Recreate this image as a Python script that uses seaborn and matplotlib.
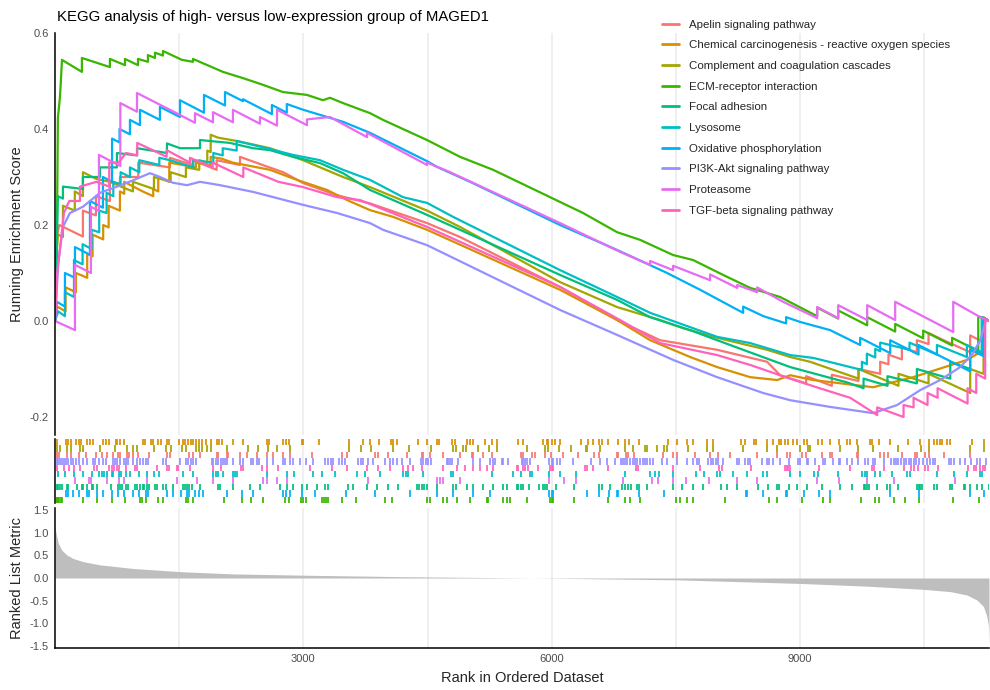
import matplotlib
matplotlib.use("Agg")
import matplotlib.pyplot as plt
from matplotlib.lines import Line2D
import pandas as pd
import seaborn as sns

# ---------------------------------------------------------------- data
N_GENES = 11280

pathways = [
    "Apelin signaling pathway",
    "Chemical carcinogenesis - reactive oxygen species",
    "Complement and coagulation cascades",
    "ECM-receptor interaction",
    "Focal adhesion",
    "Lysosome",
    "Oxidative phosphorylation",
    "PI3K-Akt signaling pathway",
    "Proteasome",
    "TGF-beta signaling pathway",
]
colors = ["#F8766D", "#D89000", "#A3A500", "#39B600", "#00BF7D",
          "#00BFC4", "#00B0F6", "#9590FF", "#E76BF3", "#FF62BC"]

# running enrichment score, vertices (rank, score)
apelin_rank = [1, 28, 52, 338, 338, 495, 495, 664, 664, 785, 785, 1007, 1007, 1389, 1389, 1663, 1663,
               1953, 1953, 2235, 2235, 2557, 2757, 2996, 3407, 3805, 4494, 4892, 6100, 6789, 7308, 7997,
               8601, 8758, 9072, 9072, 9382, 9382, 9704, 9704, 9966, 9966, 10066, 10066, 10228, 10228,
               10409, 10409, 10550, 10550, 10731, 11053, 11053, 11200, 11200, 11280]
apelin_es = [0.0, 0.18, 0.2, 0.176, 0.23, 0.22, 0.26, 0.25, 0.29, 0.285, 0.30, 0.30, 0.33, 0.32, 0.34,
             0.325, 0.335, 0.315, 0.335, 0.325, 0.342, 0.322, 0.31, 0.2875, 0.262, 0.245, 0.204, 0.175,
             0.071, 0.002, -0.04, -0.06, -0.085, -0.113, -0.13, -0.115, -0.135, -0.112, -0.125, -0.10,
             -0.11, -0.085, -0.09, -0.07, -0.08, -0.055, -0.065, -0.04, -0.048, -0.025, -0.04, -0.065,
             -0.03, -0.043, 0.007, 0.0]

chem_rank = [1, 28, 129, 129, 254, 254, 390, 390, 455, 455, 583, 583, 649, 649, 785, 785, 837, 837, 1059,
             1187, 1187, 1248, 1248, 1381, 1381, 1543, 1703, 1703, 1881, 1881, 2017, 2147, 2597, 2923,
             3286, 3527, 3805, 4083, 4494, 6100, 6789, 7188, 7671, 7997, 8396, 8722, 8879, 9157, 9881,
             10365, 11017, 11222, 11222, 11280]
chem_es = [0.0, 0.03, 0.02, 0.07, 0.06, 0.10, 0.09, 0.14, 0.135, 0.18, 0.17, 0.20, 0.195, 0.24, 0.23,
           0.27, 0.265, 0.29, 0.27, 0.26, 0.275, 0.27, 0.30, 0.29, 0.33, 0.325, 0.32, 0.33, 0.325, 0.342,
           0.338, 0.33, 0.315, 0.294, 0.273, 0.252, 0.231, 0.217, 0.19, 0.065, 0.002, -0.04, -0.075,
           -0.096, -0.117, -0.123, -0.113, -0.123, -0.138, -0.117, -0.081, -0.06, 0.007, 0.0]

compl_rank = [1, 24, 36, 97, 97, 240, 240, 338, 338, 500, 664, 866, 942, 942, 1196, 1196, 1397, 1397, 1582,
              1582, 1743, 1743, 1840, 1840, 1881, 1881, 1969, 2199, 2597, 2996, 3479, 3805, 4494, 4892,
              6100, 6789, 7308, 7586, 7997, 8601, 8879, 9120, 9704, 9704, 10187, 10187, 10550, 10550,
              11053, 11053, 11214, 11214, 11280]
compl_es = [0.0, 0.15, 0.18, 0.175, 0.24, 0.23, 0.27, 0.26, 0.31, 0.296, 0.29, 0.275, 0.27, 0.29, 0.275,
            0.30, 0.29, 0.31, 0.30, 0.32, 0.315, 0.335, 0.33, 0.355, 0.352, 0.388, 0.382, 0.375, 0.36,
            0.335, 0.30, 0.279, 0.23, 0.196, 0.081, 0.029, 0.002, -0.015, -0.035, -0.06, -0.075, -0.085,
            -0.12, -0.10, -0.135, -0.11, -0.13, -0.11, -0.15, -0.10, -0.11, 0.007, 0.0]

ecm_rank = [1, 12, 24, 36, 60, 72, 85, 326, 326, 664, 664, 846, 846, 1003, 1003, 1123, 1123, 1208, 1208,
            1305, 1305, 1534, 1667, 1667, 2029, 2271, 2513, 2754, 3044, 3237, 3322, 3479, 3805, 3962,
            4494, 4892, 5291, 6100, 6378, 6789, 7067, 7465, 7707, 8069, 8396, 8758, 9205, 9205, 9459,
            9459, 9809, 9809, 10147, 10147, 10485, 10485, 10834, 10834, 11017, 11150, 11150, 11280]
ecm_es = [0.0, 0.04, 0.175, 0.423, 0.465, 0.50, 0.544, 0.519, 0.548, 0.529, 0.546, 0.533, 0.546, 0.533,
          0.546, 0.540, 0.554, 0.548, 0.559, 0.553, 0.5625, 0.544, 0.540, 0.546, 0.519, 0.506, 0.492,
          0.477, 0.471, 0.460, 0.465, 0.454, 0.433, 0.419, 0.377, 0.342, 0.315, 0.248, 0.225, 0.185,
          0.169, 0.1375, 0.127, 0.096, 0.069, 0.050, 0.010, 0.028, 0.005, 0.022, -0.009, 0.008, -0.022,
          -0.006, -0.036, -0.020, -0.051, -0.035, -0.051, -0.063, 0.010, 0.0]

focal_rank = [1, 12, 24, 36, 97, 97, 338, 338, 544, 544, 749, 749, 991, 991, 1353, 1353, 1510, 1752, 1752,
              2114, 2392, 2597, 2875, 3201, 3479, 3805, 4494, 4892, 6100, 6789, 7188, 7671, 7997, 8311,
              8879, 9567, 9765, 9765, 10054, 10054, 10409, 10409, 10812, 10812, 11053, 11053, 11194,
              11194, 11280]
focal_es = [0.0, 0.1, 0.175, 0.26, 0.255, 0.28, 0.275, 0.30, 0.30, 0.32, 0.32, 0.35, 0.345, 0.36, 0.35,
            0.37, 0.36, 0.36, 0.377, 0.371, 0.36, 0.356, 0.342, 0.329, 0.308, 0.273, 0.221, 0.19, 0.096,
            0.044, 0.008, -0.019, -0.04, -0.06, -0.096, -0.128, -0.14, -0.12, -0.135, -0.115, -0.13,
            -0.10, -0.12, -0.085, -0.10, -0.06, -0.07, 0.008, 0.0]

lyso_rank = [1, 40, 121, 121, 230, 230, 334, 334, 443, 443, 535, 535, 624, 624, 705, 705, 793, 793, 906,
             906, 1019, 1019, 1261, 1261, 1389, 1671, 1671, 1913, 1913, 2026, 2026, 2195, 2195, 2557,
             2875, 3201, 3479, 3805, 4204, 4494, 4808, 6100, 6789, 7188, 7997, 8396, 8879, 9161, 9745,
             9745, 9805, 9805, 9906, 9906, 9966, 9966, 10320, 10320, 10651, 10651, 11013, 11013, 11194,
             11194, 11280]
lyso_es = [0.0, 0.02, 0.01, 0.06, 0.05, 0.127, 0.118, 0.16, 0.15, 0.19, 0.185, 0.23, 0.225, 0.267, 0.26,
           0.29, 0.285, 0.31, 0.30, 0.32, 0.31, 0.335, 0.325, 0.34, 0.335, 0.32, 0.335, 0.33, 0.35, 0.345,
           0.36, 0.355, 0.375, 0.36, 0.346, 0.335, 0.315, 0.294, 0.258, 0.246, 0.217, 0.106, 0.05, 0.017,
           -0.033, -0.046, -0.071, -0.077, -0.102, -0.085, -0.09, -0.068, -0.076, -0.058, -0.063, -0.045,
           -0.06, -0.045, -0.07, -0.05, -0.075, -0.05, -0.065, 0.008, 0.0]

oxphos_rank = [1, 24, 121, 121, 242, 242, 423, 423, 580, 580, 690, 690, 780, 780, 906, 906, 1027, 1027,
               1268, 1268, 1510, 1510, 1800, 1800, 2054, 2054, 2271, 2271, 2620, 2620, 2800, 2800, 3000,
               3479, 3805, 4494, 4615, 5013, 6100, 6789, 7393, 7792, 8311, 8311, 8556, 8830, 8830, 9000,
               9362, 9724, 9724, 10087, 10087, 10429, 10429, 11053, 11053, 11214, 11214, 11280]
oxphos_es = [0.0, 0.04, 0.03, 0.10, 0.09, 0.154, 0.138, 0.25, 0.236, 0.30, 0.29, 0.38, 0.372, 0.40,
             0.389, 0.419, 0.408, 0.44, 0.419, 0.446, 0.425, 0.46, 0.434, 0.471, 0.449, 0.477, 0.458,
             0.462, 0.431, 0.45, 0.434, 0.452, 0.44, 0.415, 0.392, 0.333, 0.321, 0.29, 0.2, 0.148, 0.1,
             0.065, 0.017, 0.03, 0.01, -0.005, 0.008, -0.002, -0.019, -0.05, -0.035, -0.067, -0.04,
             -0.07, -0.05, -0.105, -0.06, -0.073, 0.007, 0.0]

pi3k_rank = [1, 21, 40, 97, 181, 338, 544, 749, 942, 1148, 1268, 1425, 1595, 1752, 1993, 2392, 2996,
             3407, 3805, 3962, 4494, 6100, 6789, 7465, 7997, 8553, 8879, 9362, 9881, 10171, 10449, 10691,
             10932, 11089, 11174, 11246, 11280]
pi3k_es = [0.0, 0.06, 0.12, 0.196, 0.225, 0.238, 0.267, 0.28, 0.293, 0.308, 0.30, 0.288, 0.283, 0.29,
           0.283, 0.269, 0.242, 0.225, 0.204, 0.19, 0.158, 0.023, -0.029, -0.081, -0.117, -0.15, -0.165,
           -0.179, -0.192, -0.175, -0.144, -0.123, -0.096, -0.067, -0.04, 0.003, 0.0]

protea_rank = [1, 242, 242, 435, 435, 532, 532, 790, 790, 991, 991, 1389, 1691, 1691, 1909, 1909, 2150,
               2150, 2476, 2476, 2682, 2682, 3044, 3044, 3322, 3769, 3769, 4494, 4494, 4772, 6100, 6825,
               7188, 7188, 7465, 7465, 7912, 7912, 8239, 8239, 8480, 8480, 8794, 9205, 9205, 9459, 9459,
               9809, 9809, 10147, 10147, 10848, 10848, 11174, 11280]
protea_es = [0.0, -0.019, 0.117, 0.100, 0.238, 0.229, 0.346, 0.323, 0.454, 0.436, 0.475, 0.440, 0.413,
             0.433, 0.414, 0.435, 0.414, 0.440, 0.411, 0.425, 0.407, 0.440, 0.408, 0.420, 0.425, 0.383,
             0.392, 0.325, 0.330, 0.310, 0.204, 0.144, 0.117, 0.125, 0.106, 0.115, 0.085, 0.097, 0.069,
             0.075, 0.060, 0.070, 0.040, 0.006, 0.029, 0.006, 0.033, 0.002, 0.033, 0.002, 0.040, -0.023,
             0.040, 0.008, 0.0]

tgf_rank = [1, 28, 109, 173, 302, 302, 503, 656, 656, 769, 858, 994, 994, 1229, 1349, 1349, 1631, 1631,
            1905, 1905, 2275, 2275, 2557, 2698, 2996, 3407, 3684, 4494, 6100, 6825, 7308, 7997, 8404,
            8858, 9233, 9604, 9930, 9930, 10248, 10248, 10369, 10369, 10538, 10538, 10659, 10659, 11021,
            11021, 11126, 11126, 11234, 11234, 11280]
tgf_es = [0.0, 0.1, 0.225, 0.25, 0.25, 0.28, 0.29, 0.28, 0.33, 0.33, 0.35, 0.345, 0.371, 0.352, 0.342,
          0.356, 0.33, 0.34, 0.32, 0.33, 0.30, 0.32, 0.30, 0.29, 0.279, 0.258, 0.252, 0.196, 0.071, 0.002,
          -0.046, -0.071, -0.092, -0.119, -0.14, -0.16, -0.196, -0.18, -0.2, -0.175, -0.18, -0.16, -0.175,
          -0.15, -0.16, -0.14, -0.172, -0.14, -0.15, -0.11, -0.12, 0.004, 0.0]

# positions of gene-set members in the ranked list
chem_hits = [28, 129, 161, 190, 254, 286, 310, 390, 423, 455, 583, 616, 649, 733, 753, 785, 837, 1059,
             1091, 1156, 1187, 1248, 1277, 1349, 1381, 1494, 1543, 1574, 1610, 1639, 1671, 1703, 1743,
             1776, 1824, 1881, 1953, 1985, 2017, 2147, 2267, 2557, 2589, 2758, 2790, 2823, 2984, 3000,
             3193, 3555, 3724, 3805, 3910, 4059, 4087, 4128, 4389, 4490, 4611, 4642, 4799, 4832, 4973,
             5013, 5046, 5194, 5275, 5343, 5597, 5657, 5891, 5940, 5959, 6000, 6040, 6100, 6354, 6442,
             6495, 6575, 6604, 6684, 6797, 6886, 6937, 7058, 7401, 7510, 7631, 7711, 7880, 7945, 8283,
             8335, 8444, 8468, 8597, 8670, 8749, 8770, 8818, 8858, 8911, 8960, 9048, 9080, 9221, 9262,
             9362, 9474, 9564, 9604, 9685, 9837, 9866, 9946, 10087, 10296, 10441, 10550, 10610, 10651,
             10683, 10710, 10772, 10803, 11074, 11222]
compl_hits = [28, 60, 141, 190, 302, 334, 544, 725, 866, 938, 987, 1196, 1341, 1397, 1530, 1582, 1703,
              1743, 1776, 1840, 1881, 2074, 2336, 2457, 2577, 2678, 2839, 3555, 3692, 3813, 4087, 4280,
              4539, 4812, 4845, 4933, 4962, 5114, 5247, 5336, 5698, 5919, 5959, 6092, 6229, 6414, 6430,
              6584, 6886, 6986, 7128, 7156, 7276, 7360, 7389, 7643, 7872, 7952, 8315, 8597, 8725, 9000,
              9100, 9120, 9483, 9704, 9878, 10187, 10458, 10550, 11053, 11214]
apelin_hits = [28, 52, 141, 190, 286, 375, 495, 568, 624, 705, 765, 785, 866, 898, 946, 1007, 1140, 1349,
               1389, 1623, 1663, 1752, 1953, 1973, 2074, 2094, 2235, 2323, 2437, 2557, 2638, 2758, 2839,
               3101, 3464, 3524, 3866, 3906, 4027, 4256, 4430, 4450, 4530, 4691, 4893, 5034, 5054, 5175,
               5275, 5626, 5650, 5759, 5799, 5919, 5988, 6140, 6321, 6511, 6575, 6785, 6805, 6897, 6925,
               6994, 7348, 7469, 7510, 7731, 7912, 8013, 8154, 8476, 8718, 8838, 8879, 9020, 9072, 9262,
               9362, 9382, 9685, 9704, 9966, 10006, 10066, 10228, 10389, 10409, 10510, 10550, 10731, 11053]
pi3k_hits = [21, 40, 60, 81, 109, 133, 161, 190, 221, 254, 286, 342, 390, 455, 483, 535, 583, 616, 697,
             725, 753, 785, 833, 858, 886, 946, 987, 1027, 1059, 1099, 1127, 1309, 1341, 1510, 1582, 1610,
             1639, 1671, 1703, 1893, 1913, 1945, 1973, 2002, 2026, 2054, 2074, 2154, 2235, 2267, 2364,
             2388, 2437, 2468, 2557, 2630, 2751, 2778, 2839, 2871, 2960, 3032, 3121, 3262, 3302, 3331,
             3363, 3435, 3464, 3504, 3664, 3693, 3724, 3785, 3845, 3987, 4047, 4079, 4128, 4188, 4289,
             4418, 4450, 4482, 4510, 4539, 4732, 4752, 4772, 4793, 4873, 5047, 5134, 5255, 5287, 5315,
             5396, 5416, 5477, 5637, 5657, 5678, 5698, 5738, 5972, 6000, 6020, 6060, 6100, 6261, 6471,
             6584, 6664, 6765, 6833, 6858, 6886, 6913, 6946, 6978, 7007, 7034, 7067, 7099, 7128, 7156,
             7188, 7220, 7329, 7389, 7510, 7631, 7711, 7752, 7783, 7892, 7921, 7952, 7985, 8013, 8073,
             8235, 8266, 8335, 8375, 8396, 8537, 8605, 8629, 8677, 8758, 8870, 8972, 9000, 9080, 9100,
             9181, 9274, 9302, 9395, 9463, 9483, 9564, 9624, 9704, 9785, 9813, 9878, 9906, 10006, 10096,
             10127, 10159, 10187, 10216, 10248, 10280, 10308, 10337, 10369, 10401, 10429, 10489, 10530,
             10570, 10602, 10630, 10791, 10820, 10852, 10932, 10993, 11062, 11141, 11174, 11246]
tgf_hits = [28, 109, 173, 230, 302, 471, 503, 656, 685, 713, 745, 769, 858, 966, 994, 1229, 1349, 1381,
            1470, 1489, 1631, 1905, 2002, 2243, 2275, 2497, 2557, 2698, 3080, 3343, 3524, 3766, 3906,
            4047, 4208, 4268, 4329, 4430, 4691, 4852, 4953, 5054, 5134, 5223, 5295, 5577, 5597, 5657,
            5678, 5718, 5839, 5980, 6000, 6020, 6402, 6430, 6495, 6684, 7019, 7046, 7469, 7792, 8025,
            8053, 8404, 8818, 8838, 8858, 8879, 9233, 9604, 9866, 9886, 10006, 10248, 10337, 10369,
            10417, 10510, 10538, 10659, 11021, 11093, 11126, 11174, 11206, 11234]
lyso_hits = [40, 121, 230, 334, 443, 535, 563, 592, 624, 685, 705, 777, 793, 858, 906, 1019, 1108, 1196,
             1261, 1543, 1671, 1913, 1945, 1973, 2026, 2154, 2174, 2195, 2557, 2799, 2887, 3121, 3222,
             3382, 3645, 3745, 3926, 4208, 4240, 4268, 4442, 4780, 4812, 5275, 5529, 5626, 5738, 5759,
             5972, 6100, 6293, 6886, 7188, 7248, 7300, 7469, 7743, 7840, 7993, 8033, 8194, 8355, 8556,
             8597, 8879, 9000, 9161, 9221, 9451, 9745, 9785, 9805, 9906, 9966, 10107, 10288, 10320,
             10651, 10852, 11013, 11174, 11194]
protea_hits = [242, 414, 431, 624, 777, 833, 1108, 1470, 1712, 1913, 2147, 2517, 2557, 2678, 2799, 3785,
               4611, 4651, 4691, 4893, 5972, 6149, 6293, 6865, 7208, 7288, 7469, 7622, 7904, 8242, 8484,
               9201, 9463, 9805, 10135, 10872]
focal_hits = [21, 40, 60, 81, 141, 161, 262, 322, 342, 390, 443, 463, 511, 673, 765, 785, 805, 858, 886,
              966, 987, 1027, 1059, 1075, 1108, 1140, 1208, 1229, 1309, 1341, 1421, 1543, 1570, 1598,
              1623, 1651, 1752, 1973, 1993, 2154, 2355, 2476, 2718, 2799, 2879, 2980, 3040, 3161, 3262,
              3302, 3543, 3604, 3766, 3887, 4027, 4148, 4369, 4401, 4430, 4458, 4490, 4611, 4812, 4845,
              4973, 5054, 5175, 5287, 5416, 5457, 5577, 5597, 5626, 5657, 5730, 5851, 5899, 5919, 5940,
              6052, 6269, 6575, 6604, 6705, 6845, 6886, 6925, 6954, 7027, 7058, 7148, 7469, 7570, 7711,
              7832, 8041, 8113, 8235, 8496, 8617, 8718, 8738, 8870, 8960, 9080, 9262, 9483, 9624, 9765,
              9785, 9805, 9825, 9926, 10054, 10087, 10187, 10409, 10429, 10449, 10469, 10610, 10651,
              10812, 10832, 10973, 10993, 11053, 11134, 11194, 11274]
oxphos_hits = [133, 161, 214, 294, 390, 414, 503, 576, 685, 765, 833, 938, 1019, 1099, 1127, 1349, 1429,
               1518, 1591, 1623, 1691, 1743, 1792, 2074, 2255, 2388, 2758, 2790, 2839, 2980, 3141, 3515,
               3866, 4289, 4611, 4812, 5054, 5255, 5972, 6000, 6020, 6430, 6575, 6696, 6785, 6805, 7058,
               7356, 8347, 8363, 8556, 8830, 8846, 9040, 9233, 9354, 10087, 10429, 11053, 11214]
ecm_hits = [21, 28, 40, 52, 69, 81, 334, 503, 685, 846, 1027, 1047, 1099, 1248, 1301, 1582, 1610, 1671,
            2042, 2255, 2364, 2517, 2778, 2831, 2968, 3000, 3032, 3222, 3250, 3274, 3302, 3463, 3636,
            3987, 4067, 4490, 4530, 4691, 4732, 4852, 5013, 5215, 5235, 5408, 5457, 5497, 5706, 5980,
            6000, 6020, 6270, 6684, 6886, 6946, 7067, 7502, 7550, 7639, 7711, 8094, 8629, 8718, 9020,
            9274, 9362, 9733, 9906, 9946, 10127, 10268, 10429, 10844, 11154]

# ranked list metric, vertices (rank, value)
metric_rank = [1, 12, 40, 81, 141, 221, 342, 544, 946, 1510, 2150, 2996, 4168, 5376, 6000, 7510, 9000,
               9805, 10490, 10812, 11013, 11134, 11214, 11254, 11274, 11280]
metric_value = [1.12, 1.0, 0.77, 0.62, 0.51, 0.43, 0.36, 0.29, 0.21, 0.14, 0.09, 0.062, 0.03, 0.008,
                -0.005, -0.04, -0.12, -0.18, -0.25, -0.3, -0.375, -0.485, -0.63, -0.85, -1.07, -1.45]

es_ranks = [apelin_rank, chem_rank, compl_rank, ecm_rank, focal_rank,
            lyso_rank, oxphos_rank, pi3k_rank, protea_rank, tgf_rank]
es_values = [apelin_es, chem_es, compl_es, ecm_es, focal_es,
             lyso_es, oxphos_es, pi3k_es, protea_es, tgf_es]
hits = [apelin_hits, chem_hits, compl_hits, ecm_hits, focal_hits,
        lyso_hits, oxphos_hits, pi3k_hits, protea_hits, tgf_hits]
# rug rows from top to bottom
rug_order = [1, 2, 0, 7, 9, 5, 8, 4, 6, 3]

title = "KEGG analysis of high- versus low-expression group of MAGED1"

# ---------------------------------------------------------------- style
sns.set_theme(style="white")
plt.rcParams["font.family"] = ["Liberation Sans", "DejaVu Sans"]
plt.rcParams["axes.unicode_minus"] = False

W, H = 990, 690
fig = plt.figure(figsize=(W / 100, H / 100), dpi=100)


def box(x0, y0, x1, y1):
    return [x0 / W, 1 - y1 / H, (x1 - x0) / W, (y1 - y0) / H]


ax_es = fig.add_axes(box(55, 33, 989, 435))
ax_rug = fig.add_axes(box(55, 439, 989, 503))
ax_rank = fig.add_axes(box(55, 508, 989, 648))

grid_kw = dict(color="#EBEBEB", linewidth=1.1)
tick_col = "#4D4D4D"
for ax in (ax_es, ax_rug, ax_rank):
    ax.set_xlim(1, N_GENES)
    ax.set_xticks([3000, 6000, 9000])
    ax.set_xticks([1500, 4500, 7500, 10500], minor=True)
    ax.grid(axis="x", which="both", **grid_kw)
    ax.grid(axis="y", visible=False)
    ax.set_axisbelow(True)
    for side in ("top", "right", "bottom"):
        ax.spines[side].set_visible(False)
    ax.spines["left"].set_color("black")
    ax.spines["left"].set_linewidth(1.1)
    ax.tick_params(axis="both", which="both", labelsize=8.0, labelcolor=tick_col,
                   color="#333333", length=2.4, width=0.8, pad=2.2)
    ax.tick_params(axis="x", which="minor", length=0)
    ax.set_facecolor("none")

# ---------------------------------------------------------------- running score
frames = []
for name, rk, es in zip(pathways, es_ranks, es_values):
    frames.append(pd.DataFrame({"rank": rk, "es": es, "pathway": name}))
curves = pd.concat(frames, ignore_index=True)
sns.lineplot(data=curves, x="rank", y="es", hue="pathway", hue_order=pathways,
             palette=colors, estimator=None, sort=False, linewidth=1.6,
             legend=False, ax=ax_es)
ax_es.set_ylim(-0.2375, 0.6)
ax_es.set_yticks([-0.2, 0.0, 0.2, 0.4, 0.6])
ax_es.set_yticklabels([f"{v:.1f}" for v in [-0.2, 0.0, 0.2, 0.4, 0.6]])
ax_es.tick_params(axis="x", which="both", length=0, labelbottom=False)
ax_es.set_xlabel("")
ax_es.set_ylabel("")

# ---------------------------------------------------------------- hit rug
n_rows = len(rug_order)
for row, idx in enumerate(rug_order):
    top = n_rows - row
    ax_rug.vlines(hits[idx], top - 1, top, color=colors[idx], linewidth=1.25)
ax_rug.set_ylim(0, n_rows)
ax_rug.set_yticks([])
ax_rug.tick_params(axis="x", which="both", length=0, labelbottom=False)

# ---------------------------------------------------------------- ranked metric
ax_rank.fill_between(metric_rank, metric_value, 0, color="#BEBEBE", linewidth=0)
ax_rank.set_ylim(-1.544, 1.544)
ax_rank.set_yticks([-1.5, -1.0, -0.5, 0.0, 0.5, 1.0, 1.5])
ax_rank.set_yticklabels([f"{v:.1f}" for v in [-1.5, -1.0, -0.5, 0.0, 0.5, 1.0, 1.5]])
ax_rank.spines["bottom"].set_visible(True)
ax_rank.spines["bottom"].set_color("black")
ax_rank.spines["bottom"].set_linewidth(1.1)
ax_rank.set_xticklabels(["3000", "6000", "9000"])
ax_rank.tick_params(axis="x", which="major", length=2.4, pad=2.2)

# ---------------------------------------------------------------- text
fig.text(57 / W, 1 - 20.7 / H, title, fontsize=10.7, ha="left", va="baseline", color="black")
fig.text(17.5 / W, 1 - 234 / H, "Running Enrichment Score", rotation=90,
         fontsize=10.5, ha="center", va="center")
fig.text(17.5 / W, 1 - 578 / H, "Ranked List Metric", rotation=90,
         fontsize=10.5, ha="center", va="center")
fig.text(522 / W, 1 - 681.7 / H, "Rank in Ordered Dataset",
         fontsize=10.5, ha="center", va="baseline")

handles = [Line2D([0], [0], color=c, linewidth=2.0) for c in colors]
fig.legend(handles, pathways, loc="upper left", bbox_to_anchor=(662 / W, 1 - 19.5 / H),
           frameon=False, fontsize=8.25, handlelength=1.5, handletextpad=0.85,
           labelspacing=0.93, borderpad=0, borderaxespad=0)

fig.savefig("out.png", dpi=100)
